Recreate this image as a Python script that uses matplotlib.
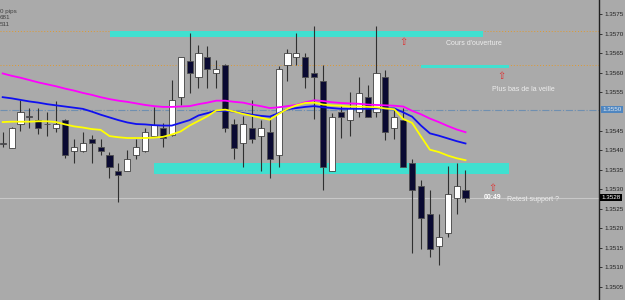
import numpy as np
import matplotlib.pyplot as plt
from matplotlib.patches import Rectangle

# candle data, index 0..52
opens = [1.35419, 1.35407, 1.35468, 1.35488, 1.35478, 1.35469, 1.35458, 1.35478, 1.35398, 1.35398,
         1.35429, 1.35408, 1.35388, 1.35348, 1.35348, 1.35388, 1.35399, 1.35438, 1.35458, 1.35440,
         1.35538, 1.35630, 1.35590, 1.35639, 1.35600, 1.35620, 1.35468, 1.35418, 1.35458, 1.35438,
         1.35448, 1.35388, 1.35620, 1.35639, 1.35639, 1.35600, 1.35579, 1.35348, 1.35498, 1.35478,
         1.35498, 1.35538, 1.35498, 1.35590, 1.35458, 1.35478, 1.35367, 1.35309, 1.35237, 1.35155,
         1.35187, 1.35277, 1.35298]
highs = [1.35448, 1.35460, 1.35530, 1.35508, 1.35508, 1.35500, 1.35527, 1.35481, 1.35429, 1.35448,
         1.35440, 1.35429, 1.35396, 1.35368, 1.35400, 1.35429, 1.35457, 1.35511, 1.35470, 1.35581,
         1.35641, 1.35701, 1.35671, 1.35669, 1.35633, 1.35621, 1.35480, 1.35489, 1.35530, 1.35478,
         1.35486, 1.35618, 1.35660, 1.35701, 1.35650, 1.35720, 1.35620, 1.35497, 1.35517, 1.35550,
         1.35590, 1.35568, 1.35720, 1.35607, 1.35508, 1.35508, 1.35377, 1.35324, 1.35298, 1.35237,
         1.35360, 1.35369, 1.35350]
lows = [1.35408, 1.35406, 1.35449, 1.35458, 1.35442, 1.35437, 1.35448, 1.35381, 1.35367, 1.35396,
        1.35367, 1.35388, 1.35328, 1.35268, 1.35347, 1.35378, 1.35396, 1.35437, 1.35408, 1.35438,
        1.35517, 1.35548, 1.35560, 1.35560, 1.35560, 1.35448, 1.35377, 1.35358, 1.35418, 1.35348,
        1.35328, 1.35358, 1.35579, 1.35620, 1.35560, 1.35480, 1.35298, 1.35347, 1.35432, 1.35437,
        1.35487, 1.35486, 1.35487, 1.35427, 1.35429, 1.35357, 1.35137, 1.35146, 1.35125, 1.35106,
        1.35177, 1.35237, 1.35268]
closes = [1.35417, 1.35458, 1.35498, 1.35486, 1.35458, 1.35467, 1.35468, 1.35388, 1.35408, 1.35418,
          1.35418, 1.35398, 1.35357, 1.35338, 1.35377, 1.35408, 1.35448, 1.35465, 1.35431, 1.35530,
          1.35639, 1.35600, 1.35650, 1.35609, 1.35609, 1.35458, 1.35407, 1.35467, 1.35429, 1.35458,
          1.35377, 1.35609, 1.35650, 1.35650, 1.35590, 1.35590, 1.35358, 1.35487, 1.35487, 1.35508,
          1.35549, 1.35487, 1.35599, 1.35448, 1.35487, 1.35358, 1.35298, 1.35226, 1.35146, 1.35177,
          1.35288, 1.35309, 1.35277]

# moving averages
ma_magenta = [1.35598, 1.35592, 1.35587, 1.35581, 1.35575, 1.35570, 1.35565, 1.35559, 1.35554, 1.35548,
              1.35543, 1.35537, 1.35532, 1.35528, 1.35525, 1.35521, 1.35517, 1.35514, 1.35512, 1.35512,
              1.35513, 1.35514, 1.35519, 1.35523, 1.35528, 1.35528, 1.35525, 1.35523, 1.35518, 1.35514,
              1.35509, 1.35511, 1.35514, 1.35517, 1.35524, 1.35529, 1.35527, 1.35524, 1.35522, 1.35521,
              1.35520, 1.35518, 1.35517, 1.35516, 1.35515, 1.35513, 1.35502, 1.35493, 1.35482, 1.35473,
              1.35463, 1.35454, 1.35447]
ma_blue = [1.35537, 1.35534, 1.35530, 1.35526, 1.35523, 1.35519, 1.35516, 1.35513, 1.35510, 1.35507,
           1.35500, 1.35492, 1.35485, 1.35478, 1.35472, 1.35468, 1.35467, 1.35465, 1.35464, 1.35464,
           1.35471, 1.35478, 1.35490, 1.35496, 1.35502, 1.35502, 1.35500, 1.35496, 1.35492, 1.35489,
           1.35487, 1.35496, 1.35506, 1.35509, 1.35512, 1.35514, 1.35511, 1.35509, 1.35507, 1.35507,
           1.35507, 1.35507, 1.35508, 1.35508, 1.35508, 1.35498, 1.35487, 1.35464, 1.35444, 1.35438,
           1.35431, 1.35424, 1.35418]
ma_yellow = [1.35473, 1.35474, 1.35474, 1.35474, 1.35475, 1.35475, 1.35473, 1.35467, 1.35462, 1.35459,
             1.35455, 1.35453, 1.35437, 1.35434, 1.35432, 1.35432, 1.35432, 1.35433, 1.35435, 1.35441,
             1.35449, 1.35464, 1.35476, 1.35488, 1.35503, 1.35505, 1.35500, 1.35494, 1.35489, 1.35484,
             1.35479, 1.35494, 1.35507, 1.35516, 1.35522, 1.35523, 1.35518, 1.35516, 1.35515, 1.35513,
             1.35513, 1.35512, 1.35511, 1.35508, 1.35506, 1.35481, 1.35471, 1.35436, 1.35402, 1.35396,
             1.35387, 1.35380, 1.35375]

# price axis (1.3550 sits under the ask box)
tick_prices = [1.3575, 1.3570, 1.3565, 1.3560, 1.3555, 1.3545, 1.3540,
               1.3535, 1.3530, 1.3525, 1.3520, 1.3515, 1.3510, 1.3505]
tick_labels = ["1.3575", "1.3570", "1.3565", "1.3560", "1.3555", "1.3545", "1.3540",
               "1.3535", "1.3530", "1.3525", "1.3520", "1.3515", "1.3510", "1.3505"]

# drawn zones (left bar, right bar, top price, bottom price)
zone_left = [12.06, 47.0, 17.0]
zone_right = [53.97, 56.9, 56.9]
zone_top = [1.35707, 1.35619, 1.35367]
zone_bottom = [1.35692, 1.35612, 1.35339]
open_level = 1.35707
prev_low_level = 1.35619
ask_level = 1.35505
bid_level = 1.35279

bg = '#AAAAAA'
fig = plt.figure(figsize=(6.25, 3), dpi=100)
fig.patch.set_facecolor(bg)
ax = fig.add_axes([0, 0, 599 / 625, 1])
ax.set_facecolor(bg)

x = np.arange(len(opens))
o = np.array(opens)
c = np.array(closes)

# horizontal lines
ax.axhline(open_level, color='#E09A30', lw=0.7, ls=(0, (1, 2)), zorder=1)
ax.axhline(prev_low_level, color='#E09A30', lw=0.7, ls=(0, (1, 2)), zorder=1)
ax.axhline(ask_level, color='#6F8FB0', lw=0.8, ls='-.', zorder=1)
ax.axhline(bid_level, color='#C8C8C8', lw=0.8, zorder=1)

# zones
for l, r, t, b in zip(zone_left, zone_right, zone_top, zone_bottom):
    ax.add_patch(Rectangle((l, b), r - l, t - b, facecolor='#40E0D0',
                           edgecolor='none', zorder=2))

# candles
ax.vlines(x, lows, highs, color='#303030', lw=0.8, zorder=3)
up = c >= o
body_h = np.maximum(np.abs(c - o), 0.000015)
body_b = np.minimum(o, c)
ax.bar(x[up], body_h[up], bottom=body_b[up], width=0.68, color='white',
       edgecolor='#404040', linewidth=0.6, zorder=4)
ax.bar(x[~up], body_h[~up], bottom=body_b[~up], width=0.68, color='#0A0A32',
       edgecolor='#505050', linewidth=0.6, zorder=4)

# moving averages
ax.plot(x, ma_magenta, color='#FF00FF', lw=1.3, zorder=5)
ax.plot(x, ma_blue, color='#1010F0', lw=1.3, zorder=5)
ax.plot(x, ma_yellow, color='#FFFF00', lw=1.3, zorder=5)

# annotations
txt = dict(color='#EEEEEE', fontsize=5, family='Liberation Sans', ha='center', va='center')
ax.text(52.96, 1.35674, "Cours d'ouverture", **txt)
ax.text(58.5, 1.35558, "Plus bas de la veille", **txt)
ax.text(59.6, 1.35273, "Retest support ?", **txt)
ax.text(55.0, 1.35279, "00:49", color='white', fontsize=5, fontweight='bold',
        family='Liberation Sans', ha='center', va='center')
for ax_x, ax_y in [(45.0, 1.35678), (56.0, 1.35592), (55.0, 1.35303)]:
    ax.text(ax_x, ax_y, '\u21e7', color='#E03030', fontsize=7, ha='center', va='center')

# top-left info
for yy, s in [(1.35758, "0 pips"), (1.35741, "681"), (1.35724, "511")]:
    ax.text(-0.3, yy, s, color='#404040', fontsize=4.5, family='Liberation Sans',
            ha='left', va='center')

ax.set_xlim(-0.303, 67.0)
ax.set_ylim(1.350156, 1.357868)
ax.set_xticks([])
ax.yaxis.tick_right()
ax.set_yticks(tick_prices)
ax.set_yticklabels(tick_labels)
ax.tick_params(axis='y', labelsize=4.5, pad=2, length=2, width=0.6,
               colors='#202020')
for lab in ax.get_yticklabels():
    lab.set_family('Liberation Sans')
for s in ['top', 'left', 'bottom']:
    ax.spines[s].set_visible(False)
ax.spines['right'].set_color('#202020')
ax.spines['right'].set_linewidth(1)

# price boxes on axis
ax.text(1.006, ask_level, "1.3550", transform=ax.get_yaxis_transform(), fontsize=4.5,
        family='Liberation Sans', color='#E0E8F0', va='center', ha='left',
        bbox=dict(facecolor='#4F86C0', edgecolor='none', pad=0.8), zorder=10)
ax.text(1.004, bid_level, "1.3528", transform=ax.get_yaxis_transform(), fontsize=4.5,
        family='Liberation Sans', color='white', va='center', ha='left',
        bbox=dict(facecolor='#000000', edgecolor='none', pad=0.8), zorder=10)

fig.savefig('out.png', dpi=100, facecolor=bg)
